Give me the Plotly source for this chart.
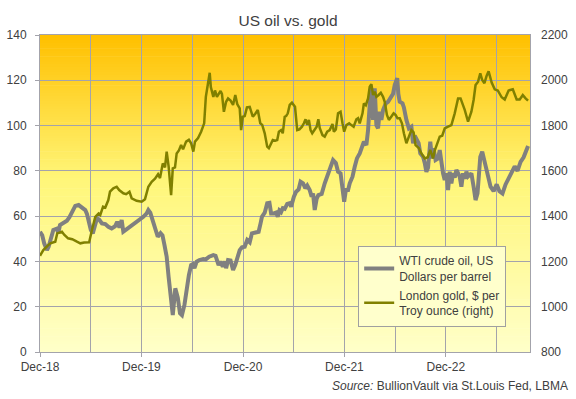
import plotly.graph_objects as go

# ---------------- data ----------------
gold_dates = [
 "2018-12-01","2018-12-13","2018-12-27","2019-01-07","2019-01-25","2019-02-01","2019-02-18","2019-02-26",
 "2019-03-12","2019-03-27","2019-04-13","2019-04-25","2019-05-09","2019-05-27","2019-06-06","2019-06-18",
 "2019-06-30","2019-07-06","2019-07-16","2019-07-24","2019-08-04","2019-08-10","2019-08-22","2019-09-03",
 "2019-09-12","2019-09-27","2019-10-07","2019-10-19","2019-10-27","2019-11-14","2019-12-02","2019-12-14",
 "2019-12-26","2020-01-07","2020-01-19","2020-01-30","2020-02-06","2020-02-16","2020-02-24","2020-03-01",
 "2020-03-08","2020-03-17","2020-03-23","2020-03-31","2020-04-06","2020-04-14","2020-04-22","2020-04-29",
 "2020-05-10","2020-05-20","2020-05-28","2020-06-05","2020-06-11","2020-06-22","2020-07-03","2020-07-14",
 "2020-07-20","2020-07-28","2020-08-03","2020-08-07","2020-08-16","2020-08-22","2020-08-29","2020-09-11",
 "2020-09-16","2020-09-23","2020-10-01","2020-10-08","2020-10-17","2020-10-26","2020-11-03","2020-11-10",
 "2020-11-19","2020-11-24","2020-11-30","2020-12-07","2020-12-15","2020-12-25","2020-12-30","2021-01-05",
 "2021-01-14","2021-01-23","2021-02-01","2021-02-08","2021-02-17","2021-02-26","2021-03-04","2021-03-12",
 "2021-03-18","2021-03-27","2021-04-03","2021-04-09","2021-04-17","2021-04-23","2021-04-30","2021-05-05",
 "2021-05-11","2021-05-18","2021-05-26","2021-06-06","2021-06-14","2021-06-22","2021-07-01","2021-07-08",
 "2021-07-14","2021-07-20","2021-07-26","2021-08-01","2021-08-07","2021-08-23","2021-08-29","2021-09-03",
 "2021-09-13","2021-09-21","2021-09-30","2021-10-09","2021-10-19","2021-10-24","2021-10-31","2021-11-08",
 "2021-11-17","2021-11-24","2021-11-30","2021-12-08","2021-12-18","2021-12-26","2022-01-03","2022-01-13",
 "2022-01-19","2022-01-25","2022-02-04","2022-02-09","2022-02-16","2022-02-24","2022-03-02","2022-03-08",
 "2022-03-14","2022-03-20","2022-03-26","2022-04-03","2022-04-11","2022-04-19","2022-04-25","2022-05-03",
 "2022-05-10","2022-05-19","2022-05-27","2022-06-03","2022-06-10","2022-06-18","2022-06-26","2022-07-03",
 "2022-07-12","2022-07-21","2022-07-30","2022-08-07","2022-08-14","2022-08-26","2022-09-04","2022-09-16",
 "2022-09-27","2022-10-06","2022-10-16","2022-10-22","2022-10-30","2022-11-09","2022-11-18","2022-11-27",
 "2022-12-09","2022-12-21","2023-01-02","2023-01-14","2023-01-23","2023-01-30","2023-02-07","2023-02-19",
 "2023-03-03","2023-03-11","2023-03-18","2023-03-27","2023-04-04","2023-04-11","2023-04-19","2023-04-27",
 "2023-05-04","2023-05-15","2023-05-26","2023-06-06","2023-06-20","2023-07-01","2023-07-15","2023-07-30",
 "2023-08-13","2023-08-24","2023-09-04","2023-09-14","2023-09-23",
]
gold_usd = [
 1225,1250,1268,1280,1287,1324,1331,1318,
 1302,1298,1287,1280,1284,1285,1339,1397,
 1412,1405,1442,1438,1471,1508,1523,1530,
 1515,1501,1497,1508,1479,1468,1464,1475,
 1530,1552,1565,1585,1568,1633,1615,1685,
 1620,1493,1611,1615,1677,1690,1714,1695,
 1729,1737,1722,1685,1729,1745,1773,1810,
 1927,2000,2033,1970,1927,1955,1927,1953,
 1940,1861,1905,1920,1910,1891,1935,1895,
 1876,1780,1839,1842,1880,1882,1866,1839,
 1852,1869,1810,1803,1766,1707,1700,1722,
 1736,1733,1736,1773,1780,1766,1839,1842,
 1854,1891,1901,1883,1780,1783,1795,1810,
 1828,1803,1825,1780,1766,1795,1828,1790,
 1758,1751,1773,1780,1807,1773,1783,1854,
 1861,1810,1773,1802,1810,1802,1795,1828,
 1833,1810,1854,1898,1890,1920,1972,1983,
 1935,1950,1927,1935,1945,1927,1905,1847,
 1825,1840,1854,1847,1832,1832,1810,1766,
 1722,1751,1780,1770,1714,1700,1677,1655,
 1660,1692,1655,1690,1722,1751,1755,1788,
 1795,1802,1854,1920,1920,1898,1869,1817,
 1861,1913,1979,1994,2031,2001,1987,2020,
 2040,1990,1960,1955,1925,1915,1955,1960,
 1915,1915,1935,1920,1910,
]

oil_dates = [
 "2018-12-01","2018-12-09","2018-12-16","2018-12-26","2019-01-01","2019-01-09","2019-01-18","2019-01-31",
 "2019-02-05","2019-02-11","2019-02-23","2019-03-08","2019-03-17","2019-03-26","2019-04-07","2019-04-19",
 "2019-05-01","2019-05-13","2019-05-19","2019-05-25","2019-06-02","2019-06-09","2019-06-18","2019-06-24",
 "2019-07-02","2019-07-12","2019-07-24","2019-08-04","2019-08-16","2019-08-28","2019-09-05","2019-09-13",
 "2019-09-21","2019-09-27","2019-10-07","2019-10-21","2019-11-01","2019-11-14","2019-11-26","2019-12-08",
 "2019-12-20","2019-12-26","2020-01-02","2020-01-08","2020-01-13","2020-01-20","2020-01-29","2020-02-08",
 "2020-02-15","2020-02-22","2020-03-01","2020-03-08","2020-03-17","2020-03-23","2020-04-01","2020-04-10",
 "2020-04-18","2020-04-25","2020-05-04","2020-05-13","2020-05-20","2020-05-28","2020-06-03","2020-06-09",
 "2020-06-17","2020-06-27","2020-07-11","2020-07-20","2020-08-01","2020-08-16","2020-08-24","2020-09-04",
 "2020-09-11","2020-09-19","2020-09-27","2020-10-01","2020-10-08","2020-10-17","2020-10-26","2020-11-03",
 "2020-11-10","2020-11-19","2020-11-27","2020-12-07","2020-12-16","2020-12-25","2021-01-02","2021-01-14",
 "2021-01-26","2021-02-02","2021-02-07","2021-02-17","2021-02-26","2021-03-06","2021-03-12","2021-03-22",
 "2021-03-30","2021-04-05","2021-04-11","2021-04-17","2021-04-23","2021-04-30","2021-05-09","2021-05-18",
 "2021-05-23","2021-06-02","2021-06-10","2021-06-19","2021-06-26","2021-07-05","2021-07-13","2021-07-20",
 "2021-07-29","2021-08-05","2021-08-10","2021-08-16","2021-08-23","2021-08-29","2021-09-10","2021-09-21",
 "2021-10-03","2021-10-12","2021-10-21","2021-10-31","2021-11-08","2021-11-17","2021-11-24","2021-11-30",
 "2021-12-06","2021-12-14","2021-12-20","2021-12-30","2022-01-07","2022-01-15","2022-01-25","2022-02-04",
 "2022-02-09","2022-02-18","2022-02-24","2022-03-02","2022-03-08","2022-03-14","2022-03-20","2022-03-26",
 "2022-04-01","2022-04-07","2022-04-13","2022-04-19","2022-04-29","2022-05-07","2022-05-16","2022-05-25",
 "2022-05-31","2022-06-09","2022-06-13","2022-06-18","2022-06-28","2022-07-03","2022-07-12","2022-07-21",
 "2022-07-30","2022-08-05","2022-08-11","2022-08-17","2022-08-25","2022-08-31","2022-09-10","2022-09-16",
 "2022-09-22","2022-09-28","2022-10-06","2022-10-12","2022-10-18","2022-10-25","2022-11-03","2022-11-09",
 "2022-11-15","2022-11-21","2022-11-27","2022-12-03","2022-12-09","2022-12-15","2022-12-21","2022-12-27",
 "2023-01-02","2023-01-08","2023-01-14","2023-01-20","2023-01-26","2023-02-01","2023-02-07","2023-02-13",
 "2023-02-19","2023-02-25","2023-03-03","2023-03-11","2023-03-18","2023-03-25","2023-03-31","2023-04-04",
 "2023-04-11","2023-04-19","2023-04-30","2023-05-11","2023-05-22","2023-06-02","2023-06-12","2023-06-23",
 "2023-07-04","2023-07-15","2023-07-26","2023-08-06","2023-08-16","2023-08-27","2023-09-07","2023-09-17",
 "2023-09-23",
]
wti_usd = [
 53.1,51.5,48.0,45.0,46.5,50.9,53.9,54.5,
 52.5,56.1,56.8,58.0,59.5,62.0,64.5,64.9,
 63.5,62.7,61.0,57.5,53.9,52.4,56.8,59.0,
 58.5,56.8,56.5,55.3,54.6,55.5,57.5,55.0,
 58.3,53.1,54.0,55.3,56.5,57.5,58.3,59.7,
 61.2,62.7,61.5,59.0,57.5,53.9,50.9,52.5,
 51.5,47.3,42.1,33.2,24.4,16.3,28.1,24.0,
 17.1,16.3,20.8,28.8,34.0,38.4,38.8,37.0,
 39.9,40.6,41.1,40.9,42.1,42.8,42.5,38.4,
 40.0,37.7,40.0,37.0,40.6,40.4,36.2,38.5,
 41.5,45.0,46.2,46.5,49.5,48.5,52.4,52.7,
 53.1,56.8,59.7,61.5,65.7,65.9,61.2,61.2,
 61.6,59.7,62.5,61.8,63.5,63.2,65.4,65.7,
 64.2,68.6,70.8,71.8,75.2,74.5,72.3,73.5,
 71.5,68.6,70.0,62.7,67.7,69.3,69.8,74.5,
 78.9,81.8,84.8,83.5,79.6,78.9,73.0,66.4,
 71.5,71.5,74.5,77.4,81.8,85.5,87.7,92.2,
 92.9,91.4,98.0,109.1,116.4,102.5,116.4,100.2,
 98.8,106.1,102.5,106.9,109.8,110.5,112.7,114.0,
 117.9,120.9,114.0,110.5,109.8,108.0,102.5,98.8,
 99.5,92.2,95.5,93.6,92.2,87.7,86.2,83.5,
 79.6,81.5,92.9,85.5,90.0,84.8,85.5,89.2,
 83.3,78.9,76.0,79.0,71.5,79.6,74.5,79.0,
 77.0,80.4,79.0,77.4,73.0,78.9,76.5,79.6,
 77.5,78.2,78.9,73.0,67.1,70.0,80.4,86.2,
 88.5,84.0,78.0,73.0,71.0,74.0,71.0,70.0,
 74.0,77.0,80.0,82.0,80.0,84.0,86.0,89.0,
 91.0,
]

left_ticks = [0, 20, 40, 60, 80, 100, 120, 140]
right_ticks = [800, 1000, 1200, 1400, 1600, 1800, 2000, 2200]
x_start, x_end = "2018-12-01", "2023-09-30"

# ---------------- styling ----------------
GRID = "#A3A3AB"
TXT = "#404040"
FONT = "Liberation Sans, Arial, sans-serif"

fig = go.Figure()
fig.add_trace(go.Scatter(
    x=oil_dates, y=wti_usd, mode="lines", name="WTI crude oil, US<br>Dollars per barrel",
    line=dict(color="#808080", width=4), yaxis="y"))
fig.add_trace(go.Scatter(
    x=gold_dates, y=gold_usd, mode="lines", name="London gold, $ per<br>Troy ounce (right)",
    line=dict(color="#808000", width=2.5), yaxis="y2"))

# vertical gradient background (orange at top -> pale yellow at bottom)
stops = [(0.0, (255, 192, 0)), (0.45, (255, 246, 120)), (1.0, (255, 255, 200))]
def grad(t):
    for (t0, c0), (t1, c1) in zip(stops[:-1], stops[1:]):
        if t <= t1:
            f = (t - t0) / (t1 - t0)
            return "rgb(%d,%d,%d)" % tuple(round(a + (b - a) * f) for a, b in zip(c0, c1))
    return "rgb(%d,%d,%d)" % stops[-1][1]

n = 120
shapes = []
for i in range(n):
    top = 1 - i / n
    bot = 1 - (i + 1) / n
    shapes.append(dict(type="rect", xref="paper", yref="paper", x0=0, x1=1,
                       y0=max(bot - 0.002, 0), y1=top, layer="below",
                       fillcolor=grad(i / (n - 1)), line=dict(width=0)))

fig.update_layout(
    width=576, height=399,
    margin=dict(l=40, r=45.5, t=35, b=47, autoexpand=False),
    paper_bgcolor="white", plot_bgcolor="rgba(0,0,0,0)",
    font=dict(family=FONT, size=12, color=TXT),
    shapes=shapes,
    title=dict(text="US oil vs. gold", x=0.5, xanchor="center", y=1 - 21 / 399, yanchor="middle",
               font=dict(size=15.5, color=TXT, family=FONT), automargin=False),
    showlegend=True,
    legend=dict(x=(358.5 - 40) / 490.5, y=(352 - 245.5) / 317, xanchor="left", yanchor="top",
                bgcolor="#FFFFCC", bordercolor="#A0A0A0", borderwidth=1,
                font=dict(size=12, color=TXT, family=FONT), tracegroupgap=8, itemwidth=30),
    xaxis=dict(type="date", range=[x_start, x_end], tick0="2018-12-01", dtick="M12",
               tickformat="%b-%y", showgrid=True, gridcolor=GRID, gridwidth=1,
               minor=dict(dtick="M6", tick0="2018-12-01", showgrid=True, gridcolor=GRID, gridwidth=1),
               ticks="outside", ticklen=4, tickcolor=GRID, automargin=False,
               showline=True, linecolor=GRID, linewidth=1, mirror=True,
               tickfont=dict(size=12, color=TXT), zeroline=False),
    yaxis=dict(range=[0, 140], tickvals=left_ticks, showgrid=True, gridcolor=GRID, gridwidth=1,
               showline=True, linecolor=GRID, linewidth=1, mirror=True, zeroline=False,
               ticks="outside", ticklen=4, tickcolor=GRID, automargin=False,
               tickfont=dict(size=12, color=TXT), ticklabelstandoff=6),
    yaxis2=dict(range=[800, 2200], tickvals=right_ticks, overlaying="y", side="right",
                showgrid=False, zeroline=False, showline=False, automargin=False,
                tickfont=dict(size=12, color=TXT), ticklabelstandoff=10),
    annotations=[dict(text="<i>Source:</i> BullionVault via St.Louis Fed, LBMA",
                      xref="paper", yref="paper", x=(571 - 40) / 490.5, y=(352 - 386) / 317,
                      xanchor="right", yanchor="middle", showarrow=False,
                      font=dict(size=12, color=TXT, family=FONT))],
)

fig.write_html("out.html", config={"displayModeBar": False},
               post_script="document.body.style.margin='0px';")
